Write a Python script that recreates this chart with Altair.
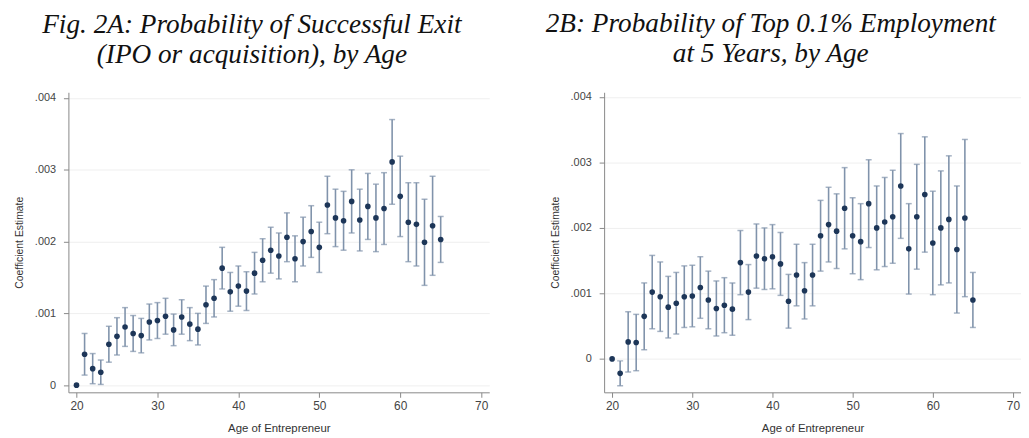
import altair as alt
import pandas as pd

ages = list(range(20, 66))

# Panel A: probability of successful exit (coefficient, half-width of 95% CI)
exit_coef = [0.0, .00043, .00023, .00018, .00057, .00068, .00081, .00072, .00069, .00088,
             .00090, .00096, .00077, .00095, .00085, .00078, .00112, .00121, .00163, .00130,
             .00138, .00131, .00156, .00174, .00188, .00180, .00206, .00176, .00200, .00214,
             .00192, .00251, .00233, .00229, .00256, .00230, .00249, .00233, .00246, .00311,
             .00263, .00227, .00224, .00199, .00222, .00203]
exit_hw = [0.0, .00029, .00021, .00017, .00025, .00026, .00027, .00025, .00024, .00025,
           .00025, .00025, .00022, .00024, .00023, .00022, .00026, .00026, .00029, .00027,
           .00028, .00027, .00029, .00030, .00032, .00032, .00034, .00032, .00034, .00036,
           .00035, .00040, .00040, .00041, .00044, .00043, .00046, .00047, .00050, .00059,
           .00056, .00055, .00058, .00060, .00069, .00032]

# Panel B: probability of top 0.1% employment at 5 years
top_coef = [0.0, -.00022, .00026, .00025, .00065, .00102, .00095, .00079, .00085, .00095,
            .00096, .00109, .00090, .00077, .00082, .00076, .00147, .00102, .00157, .00153,
            .00156, .00145, .00088, .00128, .00104, .00128, .00188, .00205, .00195, .00230,
            .00188, .00179, .00237, .00200, .00209, .00217, .00264, .00168, .00217, .00251,
            .00177, .00200, .00213, .00167, .00215, .00090]
top_hw = [0.0, .00019, .00046, .00043, .00051, .00056, .00053, .00047, .00047, .00047,
          .00047, .00047, .00044, .00042, .00042, .00040, .00049, .00042, .00049, .00047,
          .00049, .00048, .00041, .00047, .00043, .00047, .00054, .00057, .00057, .00062,
          .00058, .00058, .00067, .00064, .00068, .00071, .00080, .00069, .00080, .00088,
          .00079, .00087, .00097, .00097, .00120, .00042]

x_ticks = [20, 30, 40, 50, 60, 70]
y_ticks = [0, 0.001, 0.002, 0.003, 0.004]

title_a = ["Fig. 2A: Probability of Successful Exit", "(IPO or acquisition), by Age"]
title_b = ["2B: Probability of Top 0.1% Employment", "at 5 Years, by Age"]

POINT = "#1d3658"
BAR = "#8093ab"


def make_df(coef, hw):
    rows = []
    for a, c, h in zip(ages, coef, hw):
        rows.append({"age": a, "coef": c, "lo": c - h, "hi": c + h, "has_ci": h > 0})
    return pd.DataFrame(rows)


def panel(df, ydom, title, width, dx):
    xs = alt.Scale(domain=[19, 71], nice=False, zero=False)
    ys = alt.Scale(domain=ydom, nice=False, zero=False)
    xax = alt.Axis(values=x_ticks, grid=False, title="Age of Entrepreneur", labelFontSize=12,
                   titleFontSize=11.5, labelColor="#444", titleColor="#333", labelPadding=3,
                   titlePadding=12, domainColor="#888", tickColor="#888", tickSize=5,
                   labelFont="Liberation Sans", titleFont="Liberation Sans", titleFontWeight="normal")
    yax = alt.Axis(values=y_ticks, grid=True, gridColor="#efefef", title="Coefficient Estimate",
                   labelExpr="datum.value == 0 ? '0' : replace(format(datum.value, '.3f'), '0.', '.')",
                   labelFontSize=11, titleFontSize=10.5, labelColor="#444", titleColor="#333",
                   labelPadding=8, titlePadding=10, domainColor="#888", tickColor="#888",
                   tickSize=5, labelFont="Liberation Sans", titleFont="Liberation Sans",
                   titleFontWeight="normal")
    base = alt.Chart(df)
    ci = base.transform_filter("datum.has_ci")
    rules = ci.mark_rule(color=BAR, strokeWidth=1.6).encode(
        x=alt.X("age:Q", scale=xs, axis=xax), y=alt.Y("lo:Q", scale=ys, axis=yax), y2="hi:Q")
    cap_lo = ci.mark_tick(color=BAR, orient="horizontal", size=6, thickness=1.5).encode(
        x=alt.X("age:Q", scale=xs, axis=xax), y=alt.Y("lo:Q", scale=ys, axis=yax))
    cap_hi = ci.mark_tick(color=BAR, orient="horizontal", size=6, thickness=1.5).encode(
        x=alt.X("age:Q", scale=xs, axis=xax), y=alt.Y("hi:Q", scale=ys, axis=yax))
    pts = base.mark_circle(color=POINT, size=32, opacity=1).encode(
        x=alt.X("age:Q", scale=xs, axis=xax), y=alt.Y("coef:Q", scale=ys, axis=yax))
    return alt.layer(rules, cap_lo, cap_hi, pts).properties(
        width=width, height=303,
        view=alt.ViewBackground(stroke="transparent", strokeWidth=0),
        title=alt.TitleParams(title, font="Liberation Serif", fontStyle="italic", fontSize=27.5,
                              fontWeight="normal", color="#111", lineHeight=30, offset=24,
                              anchor="middle", frame="bounds", dx=dx))


left = panel(make_df(exit_coef, exit_hw), [-0.0001, 0.00408], title_a, 425, 0)
right = panel(make_df(top_coef, top_hw), [-0.00051, 0.00407], title_b, 421, -15)

chart = alt.hconcat(left, right, spacing=56).properties(
    padding={"left": 6, "top": 0, "right": 0, "bottom": 0}
).configure_view(strokeOpacity=0, strokeWidth=0).configure_axisX(grid=False).configure(
    background="white")

chart.save("out.html", embed_options={"renderer": "svg", "actions": False})
